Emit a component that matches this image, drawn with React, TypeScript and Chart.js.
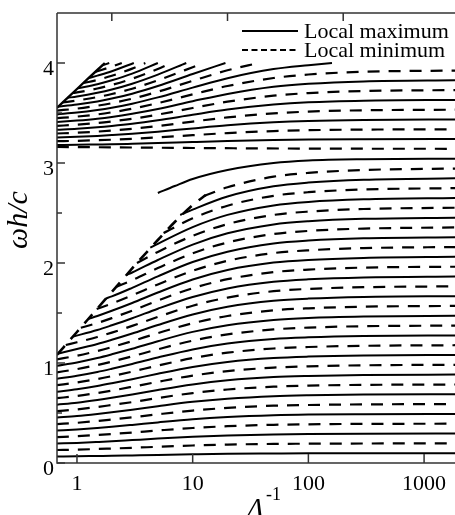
import React, { useEffect, useRef } from "react";
import { Chart, registerables } from "chart.js";

Chart.register(...registerables);

type Pt = [number, number];

// ---- axes / labels ----
const X_RANGE: [number, number] = [0.672, 1850];
const Y_RANGE: [number, number] = [0, 4.5];
const xTickValues = [1, 10, 100, 1000];
const xTopTickValues = [2, 20, 200];
const yTickValues = [0, 1, 2, 3, 4];
const yMinorTickValues = [0.5, 1.5, 2.5, 3.5];
const xTitle = "Λ";
const xTitleSup = "-1";
const yTitle = "ωh/c";
const legendLabels = ["Local maximum", "Local minimum"];

// ---- lower band (solid = local maximum) ----
const lowerMaxCurves: Pt[][] = [
  [[0.67,0.065],[1,0.067],[1.5,0.070],[2,0.072],[3,0.076],[5,0.081],[10,0.087],[20,0.092],[50,0.095],[100,0.097],[300,0.098],[2000,0.098]],
  [[0.67,0.194],[1,0.201],[1.5,0.210],[2,0.217],[3,0.229],[5,0.244],[10,0.262],[20,0.276],[50,0.286],[100,0.290],[300,0.293],[2000,0.295]],
  [[0.67,0.324],[1,0.335],[1.5,0.350],[2,0.362],[3,0.381],[5,0.406],[10,0.437],[20,0.459],[50,0.477],[100,0.484],[300,0.488],[2000,0.491]],
  [[0.67,0.454],[1,0.469],[1.5,0.490],[2,0.507],[3,0.533],[5,0.568],[10,0.612],[20,0.643],[50,0.668],[100,0.677],[300,0.684],[2000,0.687]],
  [[0.67,0.583],[1,0.603],[1.5,0.630],[2,0.652],[3,0.686],[5,0.731],[10,0.786],[20,0.827],[50,0.859],[100,0.870],[300,0.879],[2000,0.884]],
  [[0.67,0.713],[1,0.738],[1.5,0.770],[2,0.797],[3,0.838],[5,0.893],[10,0.961],[20,1.011],[50,1.050],[100,1.064],[300,1.075],[2000,1.080]],
  [[0.67,0.842],[1,0.872],[1.5,0.910],[2,0.942],[3,0.990],[5,1.055],[10,1.136],[20,1.195],[50,1.241],[100,1.257],[300,1.270],[2000,1.276]],
  [[0.67,0.972],[1,1.006],[1.5,1.050],[2,1.087],[3,1.143],[5,1.218],[10,1.311],[20,1.378],[50,1.431],[100,1.451],[300,1.465],[2000,1.473]],
  [[0.67,1.090],[1,1.140],[1.5,1.190],[2,1.232],[3,1.295],[5,1.380],[10,1.485],[20,1.562],[50,1.622],[100,1.644],[300,1.661],[2000,1.669]],
  [[0.93,1.265],[1.5,1.330],[2,1.377],[3,1.447],[5,1.543],[10,1.660],[20,1.746],[50,1.813],[100,1.837],[300,1.856],[2000,1.865]],
  [[1.25,1.440],[1.5,1.470],[2,1.522],[3,1.600],[5,1.705],[10,1.835],[20,1.930],[50,2.004],[100,2.031],[300,2.051],[2000,2.062]],
  [[1.78,1.645],[2,1.666],[3,1.752],[5,1.867],[10,2.010],[20,2.113],[50,2.195],[100,2.224],[300,2.247],[2000,2.258]],
  [[2.68,1.880],[3,1.905],[5,2.030],[10,2.184],[20,2.297],[50,2.386],[100,2.418],[300,2.442],[2000,2.454]],
  [[4.3,2.153],[5,2.192],[10,2.359],[20,2.481],[50,2.576],[100,2.611],[300,2.637],[2000,2.651]],
  [[7.8,2.480],[10,2.534],[20,2.665],[50,2.767],[100,2.804],[300,2.833],[2000,2.847]],
  [[5,2.700],[7,2.770],[10,2.840],[20,2.930],[50,3.000],[100,3.025],[300,3.038],[2000,3.043]],
];

// ---- lower band (dashed = local minimum) ----
const lowerMinCurves: Pt[][] = [
  [[0.67,0.130],[1,0.134],[1.5,0.140],[2,0.145],[3,0.152],[5,0.162],[10,0.175],[20,0.184],[50,0.191],[100,0.193],[300,0.195],[2000,0.196]],
  [[0.67,0.259],[1,0.268],[1.5,0.280],[2,0.290],[3,0.305],[5,0.325],[10,0.350],[20,0.368],[50,0.382],[100,0.387],[300,0.391],[2000,0.393]],
  [[0.67,0.389],[1,0.402],[1.5,0.420],[2,0.435],[3,0.457],[5,0.487],[10,0.524],[20,0.551],[50,0.573],[100,0.580],[300,0.586],[2000,0.589]],
  [[0.67,0.518],[1,0.536],[1.5,0.560],[2,0.580],[3,0.609],[5,0.650],[10,0.699],[20,0.735],[50,0.763],[100,0.774],[300,0.781],[2000,0.785]],
  [[0.67,0.648],[1,0.670],[1.5,0.700],[2,0.724],[3,0.762],[5,0.812],[10,0.874],[20,0.919],[50,0.954],[100,0.967],[300,0.977],[2000,0.982]],
  [[0.67,0.778],[1,0.805],[1.5,0.840],[2,0.869],[3,0.914],[5,0.974],[10,1.049],[20,1.103],[50,1.145],[100,1.160],[300,1.172],[2000,1.178]],
  [[0.67,0.907],[1,0.939],[1.5,0.980],[2,1.014],[3,1.067],[5,1.137],[10,1.223],[20,1.286],[50,1.336],[100,1.354],[300,1.368],[2000,1.374]],
  [[0.67,1.037],[1,1.073],[1.5,1.120],[2,1.159],[3,1.219],[5,1.299],[10,1.398],[20,1.470],[50,1.527],[100,1.547],[300,1.563],[2000,1.571]],
  [[0.8,1.180],[1,1.207],[1.5,1.260],[2,1.304],[3,1.371],[5,1.461],[10,1.573],[20,1.654],[50,1.718],[100,1.741],[300,1.758],[2000,1.767]],
  [[1.08,1.352],[1.5,1.400],[2,1.449],[3,1.524],[5,1.624],[10,1.748],[20,1.838],[50,1.909],[100,1.934],[300,1.954],[2000,1.963]],
  [[1.48,1.540],[2,1.594],[3,1.676],[5,1.786],[10,1.922],[20,2.022],[50,2.099],[100,2.127],[300,2.149],[2000,2.160]],
  [[2.17,1.760],[3,1.828],[5,1.949],[10,2.097],[20,2.205],[50,2.290],[100,2.321],[300,2.344],[2000,2.356]],
  [[3.3,2.000],[5,2.111],[10,2.272],[20,2.389],[50,2.481],[100,2.514],[300,2.540],[2000,2.553]],
  [[5.6,2.300],[10,2.447],[20,2.573],[50,2.672],[100,2.708],[300,2.735],[2000,2.749]],
  [[12.5,2.670],[20,2.757],[50,2.863],[100,2.901],[300,2.930],[2000,2.945]],
];

// dashed edge of the lower band (where curves pile up)
const lowerEdge: Pt[] = [[0.67,1.080],[1,1.310],[1.5,1.545],[2,1.710],[3,1.946],[5,2.230],[7,2.410],[10,2.580],[13,2.680]];

// ---- upper band (solid = local maximum) ----
const upperMaxCurves: Pt[][] = [
  [[0.67,3.180],[1,3.182],[1.5,3.185],[2,3.187],[3,3.192],[5,3.199],[10,3.210],[20,3.220],[50,3.230],[100,3.235],[300,3.238],[2000,3.240]],
  [[0.67,3.256],[1,3.262],[1.5,3.271],[2,3.279],[3,3.292],[5,3.313],[10,3.346],[20,3.377],[50,3.407],[100,3.421],[300,3.431],[2000,3.435]],
  [[0.67,3.333],[1,3.343],[1.5,3.357],[2,3.370],[3,3.392],[5,3.427],[10,3.482],[20,3.534],[50,3.584],[100,3.607],[300,3.623],[2000,3.631]],
  [[0.67,3.409],[1,3.424],[1.5,3.443],[2,3.461],[3,3.493],[5,3.541],[10,3.618],[20,3.691],[50,3.762],[100,3.792],[300,3.816],[2000,3.827]],
  [[0.67,3.486],[1,3.504],[1.5,3.530],[2,3.553],[3,3.593],[5,3.656],[10,3.754],[20,3.848],[50,3.939],[100,3.978],[160,4.0]],
  [[0.67,3.562],[1,3.585],[1.5,3.616],[2,3.644],[3,3.693],[5,3.770],[10,3.890],[19.2,4.0]],
  [[0.83,3.652],[1,3.665],[1.5,3.702],[2,3.735],[3,3.793],[5,3.884],[8.8,4.0]],
  [[1.02,3.748],[1.5,3.788],[2,3.827],[3,3.894],[5,4.0]],
  [[1.27,3.850],[1.5,3.874],[2,3.918],[3.1,4.0]],
  [[1.64,3.974],[1.9,4.0]],
];

// ---- upper band (dashed = local minimum) ----
const upperMinCurves: Pt[][] = [
  [[0.67,3.160],[3,3.155],[10,3.150],[100,3.144],[2000,3.142]],
  [[0.67,3.218],[1,3.222],[1.5,3.228],[2,3.233],[3,3.242],[5,3.256],[10,3.278],[20,3.299],[50,3.319],[100,3.328],[300,3.334],[2000,3.337]],
  [[0.67,3.295],[1,3.303],[1.5,3.314],[2,3.324],[3,3.342],[5,3.370],[10,3.414],[20,3.456],[50,3.496],[100,3.514],[300,3.527],[2000,3.533]],
  [[0.67,3.371],[1,3.383],[1.5,3.400],[2,3.416],[3,3.442],[5,3.484],[10,3.550],[20,3.613],[50,3.673],[100,3.699],[300,3.720],[2000,3.729]],
  [[0.67,3.448],[1,3.464],[1.5,3.486],[2,3.507],[3,3.543],[5,3.599],[10,3.686],[20,3.770],[50,3.850],[100,3.885],[300,3.912],[2000,3.925]],
  [[0.67,3.524],[1,3.544],[1.5,3.573],[2,3.598],[3,3.643],[5,3.713],[10,3.822],[20,3.927],[37,4.0]],
  [[0.75,3.605],[1,3.625],[1.5,3.659],[2,3.690],[3,3.743],[5,3.827],[10,3.958],[12.4,4.0]],
  [[0.92,3.700],[1,3.706],[1.5,3.745],[2,3.781],[3,3.843],[5,3.941],[6.5,4.0]],
  [[1.15,3.800],[1.5,3.831],[2,3.872],[3,3.944],[3.9,4.0]],
  [[1.43,3.910],[2,3.964],[2.44,4.0]],
];

// solid edge of the upper band
const upperEdge: Pt[] = [[0.67,3.550],[1,3.740],[1.5,3.930],[1.74,4.0]];

const SERIF = '"Liberation Serif", "Times New Roman", serif';
const AXIS_COLOR = "#333";
const CURVE_DASH = [12, 9];

function mk(pts: Pt[], dashed: boolean, width = 2) {
  return {
    data: pts.map(([x, y]) => ({ x, y })),
    borderColor: "#000",
    backgroundColor: "#000",
    borderWidth: width,
    borderDash: dashed ? CURVE_DASH : [],
    pointRadius: 0,
    fill: false,
    cubicInterpolationMode: "monotone" as const,
  };
}

const decor = {
  id: "decor",
  afterDatasetsDraw(chart: any) {
    const ctx: CanvasRenderingContext2D = chart.ctx;
    const xs = chart.scales.x;
    const ys = chart.scales.y;
    const { left, right, top, bottom } = chart.chartArea;
    ctx.save();
    // frame
    ctx.strokeStyle = AXIS_COLOR;
    ctx.lineWidth = 1.5;
    ctx.setLineDash([]);
    ctx.beginPath();
    ctx.moveTo(left, top);
    ctx.lineTo(right, top);
    ctx.moveTo(left, top);
    ctx.lineTo(left, bottom);
    ctx.lineTo(right, bottom);
    ctx.stroke();
    // inward ticks
    ctx.beginPath();
    yTickValues.forEach((v) => {
      const y = ys.getPixelForValue(v);
      ctx.moveTo(left, y);
      ctx.lineTo(left + 8, y);
    });
    yMinorTickValues.forEach((v) => {
      const y = ys.getPixelForValue(v);
      ctx.moveTo(left, y);
      ctx.lineTo(left + 5, y);
    });
    xTickValues.forEach((v) => {
      const x = xs.getPixelForValue(v);
      ctx.moveTo(x, bottom);
      ctx.lineTo(x, bottom - 9);
    });
    xTopTickValues.forEach((v) => {
      const x = xs.getPixelForValue(v);
      ctx.moveTo(x, top);
      ctx.lineTo(x, top + 8);
    });
    ctx.stroke();

    // tick labels
    ctx.fillStyle = "#000";
    ctx.font = `22px ${SERIF}`;
    ctx.textAlign = "right";
    ctx.textBaseline = "alphabetic";
    yTickValues.forEach((v) => {
      ctx.fillText(String(v), left - 3, ys.getPixelForValue(v) + 12);
    });
    ctx.textAlign = "center";
    xTickValues.forEach((v) => {
      ctx.fillText(String(v), xs.getPixelForValue(v), bottom + 27);
    });

    // y title
    ctx.save();
    ctx.translate(27, 220);
    ctx.rotate(-Math.PI / 2);
    ctx.font = `italic 30px ${SERIF}`;
    ctx.textAlign = "center";
    ctx.textBaseline = "alphabetic";
    ctx.fillText(yTitle, 0, 0);
    ctx.restore();

    // x title
    ctx.textAlign = "left";
    ctx.font = `italic 28px ${SERIF}`;
    ctx.fillText(xTitle, 247, 517);
    ctx.font = `18px ${SERIF}`;
    ctx.fillText(xTitleSup, 266, 500);

    // legend
    ctx.strokeStyle = "#000";
    ctx.lineWidth = 2;
    ctx.beginPath();
    ctx.moveTo(242, 31);
    ctx.lineTo(298, 31);
    ctx.stroke();
    ctx.setLineDash([6, 3.5]);
    ctx.beginPath();
    ctx.moveTo(242, 50);
    ctx.lineTo(298, 50);
    ctx.stroke();
    ctx.setLineDash([]);
    ctx.font = `22px ${SERIF}`;
    ctx.fillText(legendLabels[0], 304, 38);
    ctx.fillText(legendLabels[1], 304, 57);
    ctx.restore();
  },
};

export default function App() {
  const ref = useRef<HTMLCanvasElement | null>(null);
  useEffect(() => {
    if (!ref.current) return;
    const datasets: any[] = [];
    lowerMaxCurves.forEach((c) => datasets.push(mk(c, false)));
    lowerMinCurves.forEach((c) => datasets.push(mk(c, true, 2.2)));
    datasets.push(mk(lowerEdge, true, 2.6));
    upperMaxCurves.forEach((c) => datasets.push(mk(c, false)));
    upperMinCurves.forEach((c) => datasets.push(mk(c, true, 2.2)));
    datasets.push(mk(upperEdge, false, 2.4));
    const chart = new Chart(ref.current, {
      type: "line",
      data: { datasets },
      options: {
        animation: false,
        responsive: false,
        devicePixelRatio: 1,
        events: [],
        layout: { padding: { left: 57, top: 13, right: 0, bottom: 52 } },
        scales: {
          x: { type: "logarithmic", min: X_RANGE[0], max: X_RANGE[1], display: false },
          y: { type: "linear", min: Y_RANGE[0], max: Y_RANGE[1], display: false },
        },
        plugins: { legend: { display: false }, tooltip: { enabled: false } },
      },
      plugins: [decor],
    } as any);
    return () => chart.destroy();
  }, []);
  return (
    <div style={{ position: "fixed", left: 0, top: 0, width: 455, height: 515, background: "#fff" }}>
      <canvas ref={ref} width={455} height={515} style={{ display: "block" }} />
    </div>
  );
}
